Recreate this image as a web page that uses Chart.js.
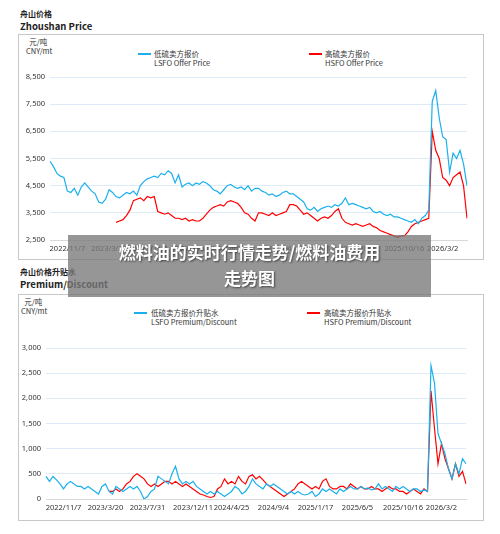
<!DOCTYPE html>
<html><head><meta charset="utf-8">
<script src="https://cdn.jsdelivr.net/npm/chart.js@4"></script>
<style>
body{margin:0;width:500px;height:534px;background:#fff;font-family:"Noto Sans CJK SC","Noto Sans",sans-serif;position:relative;overflow:hidden}
.a{position:absolute;white-space:nowrap}
.box{position:absolute;left:18px;width:464px;border:1px solid #c8c8c8}
.t1{font-size:8px;font-weight:bold;color:#222}
.t2{font-size:9.5px;font-weight:bold;color:#222}
.u{font-size:7.5px;color:#333;line-height:9px}
.lg{font-size:7.5px;color:#333;line-height:9px}
.sw{position:absolute;width:13px;height:2px}
#ov{position:absolute;left:68px;top:235px;width:363px;height:62px;background:rgba(120,120,120,0.78);color:#fff;font-weight:bold;font-size:17px;text-align:center;line-height:26px;padding-top:4px;box-sizing:border-box;text-shadow:1px 1px 2px #444}
</style></head><body>
<div class="a t1" style="left:20px;top:8px">舟山价格</div>
<div class="a t2" style="left:20px;top:19px">Zhoushan Price</div>
<div class="box" style="top:34px;height:224px"></div>
<div class="a u" style="left:26px;top:37px">&nbsp;&nbsp;元/吨<br>CNY/mt</div>
<div class="sw" style="left:138px;top:53px;background:#1ab0ec"></div>
<div class="a lg" style="left:154px;top:49px">低硫卖方报价<br>LSFO Offer Price</div>
<div class="sw" style="left:309px;top:53px;background:#f00"></div>
<div class="a lg" style="left:325px;top:49px">高硫卖方报价<br>HSFO Offer Price</div>
<div style="position:absolute;left:18px;top:34px;width:466px;height:224px"><canvas id="c1"></canvas></div>

<div class="a t1" style="left:20px;top:266px">舟山价格升贴水</div>
<div class="a t2" style="left:20px;top:277px">Premium/Discount</div>
<div class="box" style="top:294px;height:225px"></div>
<div class="a u" style="left:21px;top:297px">&nbsp;&nbsp;元/吨<br>CNY/mt</div>
<div class="sw" style="left:134px;top:312px;background:#1ab0ec"></div>
<div class="a lg" style="left:151px;top:308px">低硫卖方报价升贴水<br>LSFO Premium/Discount</div>
<div class="sw" style="left:307px;top:312px;background:#f00"></div>
<div class="a lg" style="left:324px;top:308px">高硫卖方报价升贴水<br>HSFO Premium/Discount</div>
<div style="position:absolute;left:18px;top:294px;width:466px;height:225px"><canvas id="c2"></canvas></div>
<div id="ov">燃料油的实时行情走势/燃料油费用<br>走势图</div>
<script>
const tickDates = {5:'2022/11/7',17:'2023/3/20',29:'2023/7/31',42:'2023/12/11',53:'2024/4/25',65:'2024/9/4',77:'2025/1/17',89:'2025/6/5',102:'2025/10/16',113:'2026/3/2'};
const labels = Array.from({length:121},(_,i)=>tickDates[i]||'');
const lsfoPrice=[5400,5200,4950,4850,4800,4300,4250,4400,4150,4450,4600,4450,4300,4200,3900,3850,4000,4350,4250,4100,4050,4150,4250,4200,4300,4150,4500,4650,4750,4800,4850,4800,4950,4900,5050,4950,4600,4900,4450,4550,4600,4500,4600,4550,4650,4600,4500,4350,4300,4200,4350,4500,4550,4450,4400,4450,4350,4500,4300,4400,4400,4300,4250,4150,4200,4100,4150,4250,4300,4200,4200,4100,4000,3900,3650,3600,3700,3550,3650,3700,3750,3700,3800,3750,3850,4050,3800,3850,3800,3750,3700,3650,3700,3550,3500,3550,3450,3400,3450,3350,3350,3300,3250,3200,3150,3250,3100,3300,3400,3600,7600,8000,7000,6300,6200,5000,5700,5500,5800,5300,4500];
const hsfoPrice=[null,null,null,null,null,null,null,null,null,null,null,null,null,null,null,null,null,null,null,3150,3200,3250,3400,3600,3950,4000,4050,3950,4100,4050,4100,3550,3500,3450,3500,3400,3300,3300,3250,3300,3200,3250,3200,3200,3300,3450,3600,3700,3750,3800,3750,3900,3950,3900,3850,3700,3500,3450,3300,3200,3500,3500,3450,3400,3500,3400,3450,3500,3550,3800,3800,3750,3600,3450,3500,3400,3300,3200,3300,3350,3300,3400,3550,3650,3300,3150,3100,3050,3100,3050,3000,3050,3100,3000,2950,2850,2800,2750,2700,2650,2600,2650,2650,2800,3000,3100,3150,3200,3250,3300,6500,5800,5500,4800,4700,4500,4800,4900,5000,4500,3300];
const lsfoPrem=[450,350,450,380,300,200,300,350,300,250,250,200,250,200,150,100,250,300,150,100,250,200,150,200,250,200,250,150,0,50,150,200,450,400,350,300,500,650,400,300,350,300,350,250,200,150,100,150,100,150,100,50,100,150,250,200,100,150,250,400,300,250,200,300,250,300,250,200,150,100,150,100,150,100,80,100,150,50,100,200,150,200,150,100,200,150,200,250,200,200,250,200,220,180,200,300,200,250,200,150,250,200,250,200,150,200,200,150,180,150,2650,2300,1300,1100,900,600,400,700,500,800,700];
const hsfoPrem=[null,null,null,null,null,null,null,null,null,null,null,null,null,null,null,null,null,null,150,150,200,150,200,300,350,450,500,450,400,300,250,300,250,300,350,350,300,350,300,250,300,250,200,150,100,80,50,30,50,200,250,400,300,350,300,450,350,300,450,480,400,450,380,300,250,200,150,100,50,100,150,200,300,350,300,250,200,250,200,350,400,250,200,200,250,250,200,300,250,200,250,200,200,250,200,200,150,200,250,200,200,150,150,100,150,200,150,100,200,150,2150,1400,700,1100,800,600,400,700,450,550,300];

function mk(id,d1,d2,min,max,step,yW,padT,padR,xH){
  new Chart(document.getElementById(id),{type:'line',
    data:{labels,datasets:[
      {data:d1,borderColor:'#1ab0ec',borderWidth:1.2,pointRadius:0,tension:0},
      {data:d2,borderColor:'#ff0000',borderWidth:1.2,pointRadius:0,tension:0}]},
    options:{animation:false,responsive:true,maintainAspectRatio:false,
      layout:{padding:{top:padT,right:padR,left:0,bottom:0}},
      plugins:{legend:{display:false},tooltip:{enabled:false}},
      scales:{
        x:{grid:{display:false,drawTicks:false},border:{color:'#d9d9d9'},afterFit:s=>{s.height=xH},
          ticks:{autoSkip:false,maxRotation:0,color:'#333',font:{size:7.5,family:'Noto Sans'},padding:4,callback:(v,i)=>labels[i]}},
        y:{min,max,grid:{color:'#dcebf7',drawTicks:false},border:{display:false},afterFit:s=>{s.width=yW},
          ticks:{stepSize:step,padding:5,color:'#333',font:{size:7.5,family:'Noto Sans'},callback:v=>v.toLocaleString('en-US')}}
      }}});
}
mk('c1',lsfoPrice,hsfoPrice,2500,8500,1000,32,43,17,18);
mk('c2',lsfoPrem,hsfoPrem,0,3000,500,28,54,18,20);
</script></body></html>
